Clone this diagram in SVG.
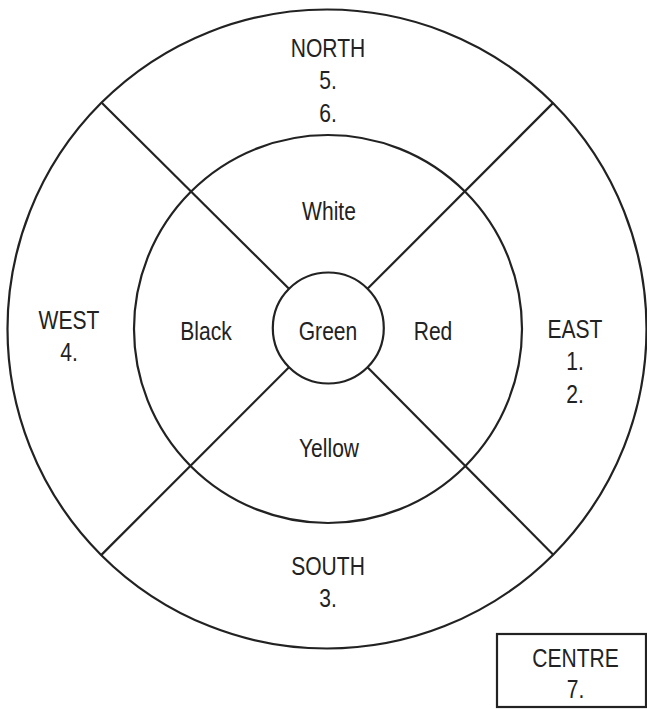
<svg xmlns="http://www.w3.org/2000/svg" width="647" height="709" viewBox="0 0 647 709">
<style>
.ln{stroke:#222;stroke-width:2.2;fill:none}
.t{font-family:"Liberation Sans",Arial,sans-serif;font-size:26px;fill:#222;text-anchor:middle}
</style>
<rect width="647" height="709" fill="#fff"/>
<g id="outer-ring"><circle class="ln" cx="327" cy="329" r="319.5"/></g>
<g id="inner-ring"><circle class="ln" cx="328" cy="329" r="194"/></g>
<g id="connectors">
<line class="ln" x1="101.7" y1="102.7" x2="289" y2="288.8"/>
<line class="ln" x1="552.9" y1="103.1" x2="367.5" y2="288.8"/>
<line class="ln" x1="101.4" y1="554.9" x2="289" y2="367.2"/>
<line class="ln" x1="553.5" y1="555" x2="367.5" y2="367.2"/>
</g>
<g id="green"><circle class="ln" cx="328.3" cy="328" r="55.5"/>
<text class="t" transform="translate(328 340) scale(0.81 1)">Green</text></g>
<g id="north"><text class="t" transform="translate(328 57) scale(0.81 1)"><tspan x="0">NORTH</tspan><tspan x="0" dy="32.5">5.</tspan><tspan x="0" dy="32.5">6.</tspan></text></g>
<g id="white"><text class="t" transform="translate(329 220) scale(0.81 1)">White</text></g>
<g id="black"><text class="t" transform="translate(206 340) scale(0.81 1)">Black</text></g>
<g id="red"><text class="t" transform="translate(433 340) scale(0.81 1)">Red</text></g>
<g id="yellow"><text class="t" transform="translate(329 457) scale(0.81 1)">Yellow</text></g>
<g id="west"><text class="t" transform="translate(69 329) scale(0.81 1)"><tspan x="0">WEST</tspan><tspan x="0" dy="32">4.</tspan></text></g>
<g id="east"><text class="t" transform="translate(575 338) scale(0.81 1)"><tspan x="0">EAST</tspan><tspan x="0" dy="32.5">1.</tspan><tspan x="0" dy="32.5">2.</tspan></text></g>
<g id="south"><text class="t" transform="translate(328 575) scale(0.81 1)"><tspan x="0">SOUTH</tspan><tspan x="0" dy="31.7">3.</tspan></text></g>
<g id="centre"><rect class="ln" x="497" y="634" width="149" height="73"/>
<text class="t" transform="translate(575.5 667) scale(0.81 1)"><tspan x="0">CENTRE</tspan><tspan x="0" dy="31">7.</tspan></text></g>
</svg>
